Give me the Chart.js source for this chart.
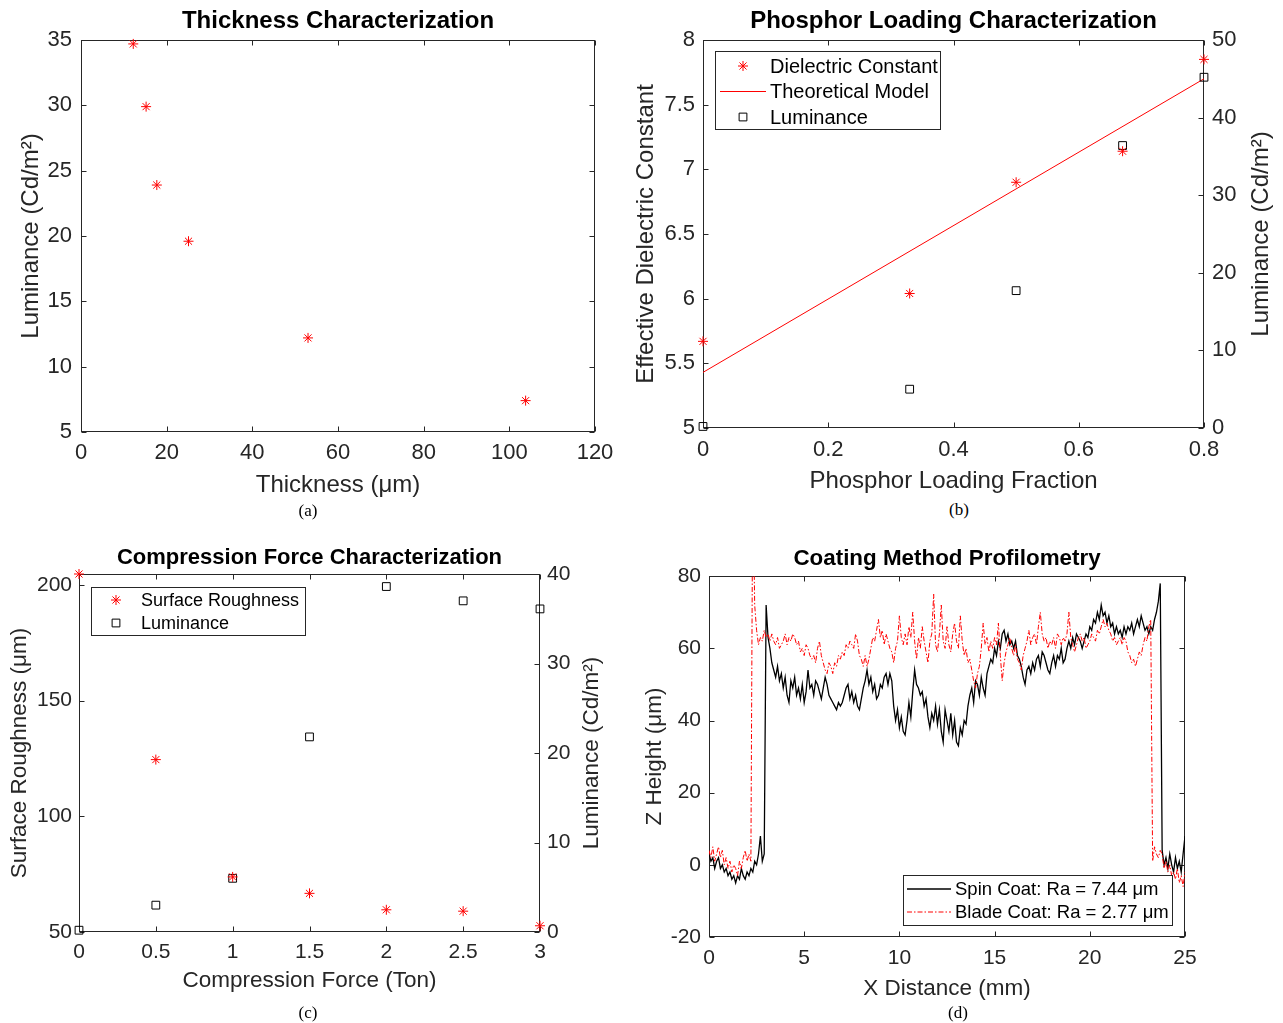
<!DOCTYPE html>
<html><head><meta charset="utf-8">
<script src="https://cdn.jsdelivr.net/npm/chart.js@4.4.1/dist/chart.umd.min.js"></script>
<style>
body{margin:0;background:#fff;width:1283px;height:1023px;position:relative;overflow:hidden}
canvas{position:absolute}
.cap{position:absolute;font-family:"Liberation Serif","Times New Roman",serif;font-size:17px;color:#000;transform:translate(-50%,-50%);white-space:nowrap}
</style></head><body>
<canvas id="ca" width="640" height="500" style="left:0;top:0"></canvas>
<canvas id="cb" width="661" height="500" style="left:622px;top:0"></canvas>
<canvas id="cc" width="640" height="480" style="left:0;top:520px"></canvas>
<canvas id="cd" width="661" height="485" style="left:622px;top:520px"></canvas>
<div class="cap" style="left:308px;top:511px">(a)</div>
<div class="cap" style="left:959px;top:510px">(b)</div>
<div class="cap" style="left:308px;top:1013px">(c)</div>
<div class="cap" style="left:958px;top:1013px">(d)</div>
<script>
// ---------- DATA ----------
// (a) Thickness characterization
const thicknessUm = [12.2, 15.2, 17.7, 25.1, 53.0, 103.8];
const thicknessLum = [34.7, 29.9, 23.9, 19.6, 12.2, 7.4];
// (b) Phosphor loading
const loadingFrac = [0, 0.33, 0.5, 0.67, 0.8];
const dielectricConst = [5.67, 6.04, 6.90, 7.14, 7.85];
const loadingLum = [0.2, 5.0, 17.7, 36.4, 45.2];
const modelFrac = [0, 0.8];
const modelDielectric = [5.43, 7.70];
// (c) Compression force
const forceTon = [0, 0.5, 1, 1.5, 2, 2.5, 3];
const roughnessUm = [204.7, 124.5, 73.8, 66.7, 59.6, 59.0, 52.7];
const forceLum = [0.2, 3.0, 6.0, 21.8, 38.6, 37.0, 36.1];
// (d) Profilometry, sampled every 0.1 mm from 0 to 25 mm
const profileStepMm = 0.1;
const spinCoatUm = [
 3,1,2,-1,1,2,-1,0,-2,-1,
 -3,-2,-4,-3,-5,-3,-4,-1,-3,-4,
 -2,-3,-1,-2,1,0,3,8,1,3,
 72,63,60,56,54,52,55,51,53,49,
 52,47,45,51,49,52,47,49,46,50,
 45,48,54,49,50,47,51,50,48,46,
 49,52,50,47,46,45,44,43,45,44,
 45,47,49,50,46,48,45,47,44,43,
 46,49,51,54,50,52,48,50,46,47,
 50,49,52,53,50,53,51,44,40,43,
 38,41,37,36,40,45,41,48,54,50,
 49,47,48,44,46,41,38,42,40,44,
 39,43,37,34,43,40,37,42,36,40,
 34,33,38,36,40,39,44,47,49,45,
 51,50,47,52,49,47,53,55,57,56,
 60,58,62,60,64,65,62,64,61,62,
 60,62,58,57,55,52,50,54,55,53,
 56,54,57,58,55,59,58,56,54,53,
 56,58,55,58,57,60,56,57,60,62,
 60,63,61,64,63,62,60,62,64,63,
 66,65,68,67,70,68,72,69,70,67,
 69,66,67,64,66,64,65,63,66,64,
 66,65,67,64,66,68,66,69,67,65,
 66,64,66,65,68,70,73,78,4,0,
 2,-1,3,0,-2,2,-1,1,-2,3,
 8];
const bladeCoatUm = [
 4,2,5,1,3,5,2,4,0,2,
 -1,1,-2,0,-1,-3,1,-1,2,4,
 1,3,1,110,72,65,61,63,62,65,
 63,64,62,64,62,61,63,60,61,62,
 64,61,63,62,64,63,61,62,59,60,
 58,61,60,58,57,58,56,60,62,58,
 56,54,53,56,55,53,56,55,58,57,
 59,58,61,60,62,61,60,64,62,58,
 57,55,58,55,57,60,63,62,65,68,
 63,65,61,64,62,60,59,56,60,62,
 69,63,61,64,61,66,63,70,62,57,
 63,60,66,62,59,56,62,64,75,61,
 59,64,72,62,60,66,61,59,64,67,
 62,60,69,62,58,60,56,57,54,51,
 49,53,55,60,67,61,63,59,62,60,
 63,61,67,58,51,56,59,61,63,60,
 58,61,57,56,54,58,60,62,65,61,
 63,64,61,66,70,64,62,63,60,62,
 61,63,60,64,63,61,63,62,64,70,
 63,61,59,61,63,64,62,63,60,61,
 62,64,63,62,65,64,66,68,66,67,
 65,64,62,63,61,62,63,61,63,62,
 59,58,56,57,55,57,59,58,61,63,
 62,66,68,1,5,3,2,4,3,-1,
 1,-2,0,-3,-2,-4,-1,-5,-3,-6,
 -2];
// tick values
const ticksAx = [0,20,40,60,80,100,120];
const ticksAy = [5,10,15,20,25,30,35];
const ticksBx = [0,0.2,0.4,0.6,0.8];
const ticksBy = [5,5.5,6,6.5,7,7.5,8];
const ticksBy2 = [0,10,20,30,40,50];
const ticksCx = [0,0.5,1,1.5,2,2.5,3];
const ticksCy = [50,100,150,200];
const ticksCy2 = [0,10,20,30,40];
const ticksDx = [0,5,10,15,20,25];
const ticksDy = [-20,0,20,40,60,80];

// ---------- HELPERS ----------
const FONT = '"Liberation Sans", Arial, Helvetica, sans-serif';
Chart.defaults.font.family = FONT;
Chart.defaults.color = '#262626';
const AX = '#262626';

function pts(xs, ys){ return xs.map((x,i)=>({x:x, y:ys[i]})); }
function linAxis(o){
  const horiz = o.position === 'bottom';
  return {
    type:'linear', position:o.position, min:o.min, max:o.max,
    grid:{display:false, drawTicks:false}, border:{display:false},
    afterBuildTicks: s => { s.ticks = o.ticks.map(v=>({value:v})); },
    afterFit: s => { if (s.isHorizontal()) s.height = o.size; else s.width = o.size; },
    ticks:{font:{size:o.tickSize}, color:AX, padding:o.tickPad, maxRotation:0, autoSkip:false,
           callback: v => String(v)},
    title:{display: !!o.title, text:o.title || '', font:{size:o.titleSize}, color:AX,
           padding: horiz ? {top:0, bottom:o.titlePad} : {top:o.titlePad, bottom:0}}
  };
}
function chartTitle(text, size, top, bottom){
  return {display:true, text:text, fullSize:false, position:'top', color:'#000',
          font:{size:size, weight:'bold'}, padding:{top:top, bottom:bottom}};
}
function starDS(label, xs, ys, axis){
  return {label:label, data:pts(xs,ys), yAxisID:axis, pointStyle:'star', pointRadius:5,
          borderColor:'#ff0000', backgroundColor:'#ff0000', borderWidth:1, showLine:false, clip:false, order:1};
}
function squareDS(label, xs, ys, axis){
  return {label:label, data:pts(xs,ys), yAxisID:axis, pointStyle:'rect', pointRadius:5.5,
          borderColor:'#000', backgroundColor:'rgba(0,0,0,0)', borderWidth:1, showLine:false, clip:false, order:2};
}

const framePlugin = {
  id:'frame',
  beforeDatasetsDraw(chart){
    const {ctx, chartArea:a, scales} = chart;
    ctx.save();
    ctx.strokeStyle = AX; ctx.lineWidth = 1;
    const L = Math.round(a.left)+0.5, R = Math.round(a.right)-0.5, T = Math.round(a.top)+0.5, B = Math.round(a.bottom)-0.5;
    ctx.strokeRect(L, T, R-L, B-T);
    const tl = 5;
    ctx.beginPath();
    const x = scales.x;
    x.ticks.forEach(t => { const p = Math.round(x.getPixelForValue(t.value))+0.5;
      ctx.moveTo(p,B); ctx.lineTo(p,B-tl); ctx.moveTo(p,T); ctx.lineTo(p,T+tl); });
    const y = scales.y, y2 = scales.y2;
    y.ticks.forEach(t => { const p = Math.round(y.getPixelForValue(t.value))+0.5;
      ctx.moveTo(L,p); ctx.lineTo(L+tl,p);
      if (!y2) { ctx.moveTo(R,p); ctx.lineTo(R-tl,p); } });
    if (y2) y2.ticks.forEach(t => { const p = Math.round(y2.getPixelForValue(t.value))+0.5;
      ctx.moveTo(R,p); ctx.lineTo(R-tl,p); });
    ctx.stroke();
    ctx.restore();
  }
};

// right-hand axis title, read bottom-to-top like MATLAB
const sideTitle = {
  id:'sideTitle',
  afterDraw(chart, args, o){
    if (!o || !o.text) return;
    const {ctx, chartArea:a} = chart;
    ctx.save();
    ctx.translate(a.right + o.dx, (a.top + a.bottom)/2);
    ctx.rotate(-Math.PI/2);
    ctx.font = o.size + 'px ' + FONT;
    ctx.fillStyle = AX; ctx.textAlign = 'center'; ctx.textBaseline = 'middle';
    ctx.fillText(o.text, 0, 0);
    ctx.restore();
  }
};

const boxLegend = {
  id:'boxLegend',
  afterDraw(chart, args, o){
    if (!o || !o.w) return;
    const {ctx, chartArea:a} = chart;
    const x0 = Math.round(a.left + o.x), y0 = Math.round(a.top + o.y);
    ctx.save();
    ctx.fillStyle = '#fff'; ctx.fillRect(x0, y0, o.w, o.h);
    ctx.strokeStyle = AX; ctx.lineWidth = 1; ctx.strokeRect(x0+0.5, y0+0.5, o.w, o.h);
    ctx.font = o.fontSize + 'px ' + FONT;
    ctx.textBaseline = 'middle'; ctx.textAlign = 'left';
    chart.data.datasets.forEach((ds, i) => {
      const cy = y0 + o.firstRow + i*o.rowGap;
      ctx.save();
      if (ds.showLine) {
        ctx.strokeStyle = ds.borderColor; ctx.lineWidth = ds.borderWidth || 1;
        ctx.setLineDash(ds.borderDash || []);
        ctx.beginPath(); ctx.moveTo(x0+o.lineX0, cy); ctx.lineTo(x0+o.lineX1, cy); ctx.stroke();
      } else {
        ctx.strokeStyle = ds.borderColor; ctx.fillStyle = 'rgba(0,0,0,0)'; ctx.lineWidth = 1;
        Chart.helpers.drawPoint(ctx, {pointStyle:ds.pointStyle, radius:ds.pointRadius, borderWidth:1, rotation:0}, x0+o.markX, cy);
      }
      ctx.restore();
      ctx.fillStyle = '#000';
      ctx.fillText(ds.label, x0+o.textX, cy+1);
    });
    ctx.restore();
  }
};
Chart.register(framePlugin, sideTitle, boxLegend);

function baseOptions(title, scales, legendOpts, side, padding){
  return {
    responsive:false, animation:false, events:[],
    layout:{padding:padding},
    scales:scales,
    plugins:{legend:{display:false}, tooltip:{enabled:false}, title:title,
             boxLegend:legendOpts || {}, sideTitle:side || {}}
  };
}

// ---------- (a) ----------
new Chart(document.getElementById('ca'), {
  type:'scatter',
  data:{datasets:[starDS('Luminance', thicknessUm, thicknessLum, 'y')]},
  options: baseOptions(chartTitle('Thickness Characterization', 24, 7, 4.2), {
    x: linAxis({position:'bottom', min:0, max:120, ticks:ticksAx, size:68, tickSize:22, tickPad:8, title:'Thickness (\u03bcm)', titleSize:24, titlePad:0}),
    y: linAxis({position:'left', min:5, max:35, ticks:ticksAy, size:81, tickSize:22, tickPad:9, title:'Luminance (Cd/m\u00b2)', titleSize:24, titlePad:16.6})
  }, null, null, {left:0, right:45, top:0, bottom:0})
});

// ---------- (b) ----------
new Chart(document.getElementById('cb'), {
  type:'scatter',
  data:{datasets:[
    starDS('Dielectric Constant', loadingFrac, dielectricConst, 'y'),
    {label:'Theoretical Model', data:pts(modelFrac, modelDielectric), yAxisID:'y', showLine:true,
     borderColor:'#ff0000', borderWidth:1, pointRadius:0, order:3},
    squareDS('Luminance', loadingFrac, loadingLum, 'y2')
  ]},
  options: baseOptions(chartTitle('Phosphor Loading Characterization', 24, 7, 4.2), {
    x: linAxis({position:'bottom', min:0, max:0.8, ticks:ticksBx, size:72, tickSize:22, tickPad:8.8, title:'Phosphor Loading Fraction', titleSize:24, titlePad:4.6}),
    y: linAxis({position:'left', min:5, max:8, ticks:ticksBy, size:81, tickSize:22, tickPad:8, title:'Effective Dielectric Constant', titleSize:24, titlePad:9.6}),
    y2: linAxis({position:'right', min:0, max:50, ticks:ticksBy2, size:79, tickSize:22, tickPad:8, title:'', titleSize:24, titlePad:0})
  }, {x:12, y:11, w:225, h:78, firstRow:15, rowGap:25.5, markX:28, lineX0:5, lineX1:51, textX:55, fontSize:20},
  {text:'Luminance (Cd/m\u00b2)', dx:57, size:24},
  {left:0, right:0, top:0, bottom:0})
});

// ---------- (c) ----------
new Chart(document.getElementById('cc'), {
  type:'scatter',
  data:{datasets:[
    starDS('Surface Roughness', forceTon, roughnessUm, 'y'),
    squareDS('Luminance', forceTon, forceLum, 'y2')
  ]},
  options: baseOptions(chartTitle('Compression Force Characterization', 22, 25, 2.6), {
    x: linAxis({position:'bottom', min:0, max:3, ticks:ticksCx, size:68, tickSize:21, tickPad:7.4, title:'Compression Force (Ton)', titleSize:22.5, titlePad:5.5}),
    y: linAxis({position:'left', min:50, max:204.7, ticks:ticksCy, size:79, tickSize:21, tickPad:7, title:'Surface Roughness (\u03bcm)', titleSize:22.5, titlePad:6.5}),
    y2: linAxis({position:'right', min:0, max:40, ticks:ticksCy2, size:100, tickSize:21, tickPad:7, title:'', titleSize:22.5, titlePad:0})
  }, {x:12, y:13, w:214, h:48, firstRow:13, rowGap:23, markX:25, lineX0:5, lineX1:45, textX:50, fontSize:18},
  {text:'Luminance (Cd/m\u00b2)', dx:52, size:22.5},
  {left:0, right:0, top:0, bottom:0})
});

// ---------- (d) ----------
const profileX = spinCoatUm.map((_, i) => Math.round(i*profileStepMm*10)/10);
new Chart(document.getElementById('cd'), {
  type:'scatter',
  data:{datasets:[
    {label:'Spin Coat: Ra = 7.44 \u03bcm', data:pts(profileX, spinCoatUm), showLine:true, pointRadius:0,
     borderColor:'#000000', borderWidth:1.3, order:2},
    {label:'Blade Coat: Ra = 2.77 \u03bcm', data:pts(profileX, bladeCoatUm), showLine:true, pointRadius:0,
     borderColor:'#ff0000', borderWidth:1, borderDash:[5,2,1.5,2], order:1}
  ]},
  options: baseOptions(chartTitle('Coating Method Profilometry', 22.4, 25, 4.3), {
    x: linAxis({position:'bottom', min:0, max:25, ticks:ticksDx, size:68, tickSize:21, tickPad:8.4, title:'X Distance (mm)', titleSize:22.5, titlePad:2.5}),
    y: linAxis({position:'left', min:-20, max:80, ticks:ticksDy, size:87, tickSize:21, tickPad:8, title:'Z Height (\u03bcm)', titleSize:22.5, titlePad:19.5})
  }, {x:194, y:299, w:269, h:50, firstRow:14, rowGap:23, markX:26, lineX0:4, lineX1:48, textX:52, fontSize:18.5},
  null,
  {left:0, right:98, top:0, bottom:0})
});
</script>
</body></html>
